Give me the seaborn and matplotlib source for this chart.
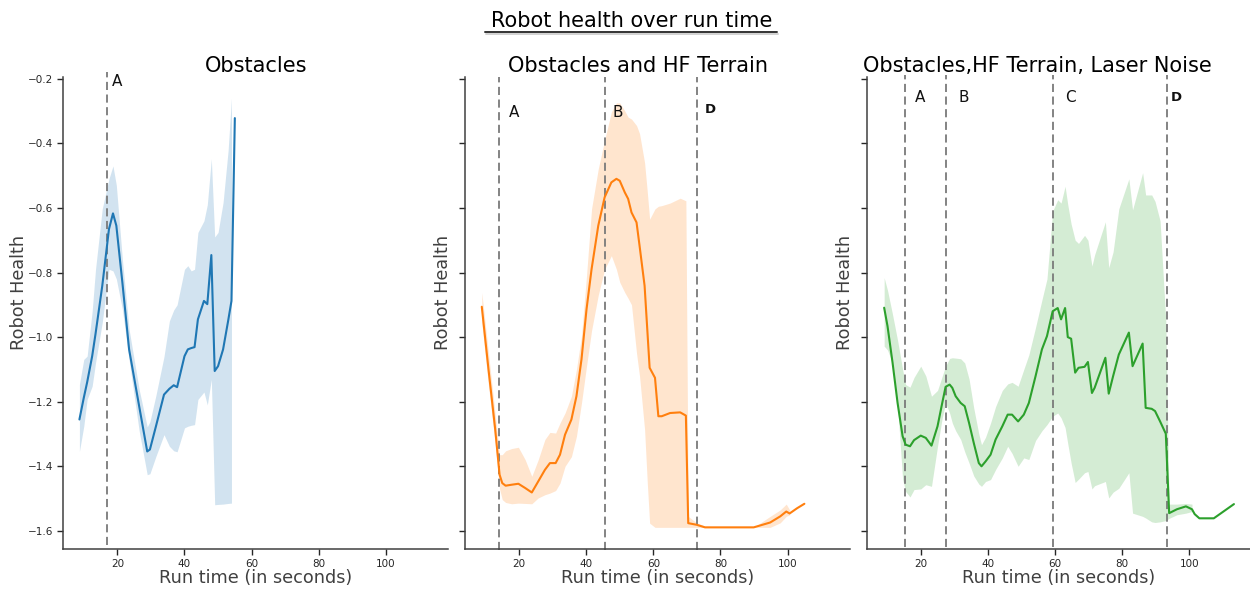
import numpy as np
import pandas as pd
import matplotlib
matplotlib.use("Agg")
import matplotlib.pyplot as plt
import matplotlib.patheffects as pe
from matplotlib.lines import Line2D
import seaborn as sns

nan = np.nan

# ---------------- data ----------------
titles = ["Obstacles", "Obstacles and HF Terrain", "Obstacles,HF Terrain, Laser Noise"]
suptitle = "Robot health over run time"
xlabel = "Run time (in seconds)"
ylabel = "Robot Health"

# Panel 1 : Obstacles
obs_time = [8.7, 10, 11, 12.5, 13.5, 15.5, 17.5, 18.7, 19.7, 21.5, 23.5, 26.5, 28.9, 29.7,
            31.5, 33.9, 35.5, 36.8, 37.8, 40, 41, 42, 43, 44, 45.8, 46.8, 48, 49, 50, 51.5,
            53, 54, 55]
obs_mean = [-1.255, -1.188, -1.14, -1.059, -0.99, -0.842, -0.666, -0.617, -0.655, -0.831,
            -1.038, -1.214, -1.354, -1.348, -1.276, -1.178, -1.16, -1.149, -1.155, -1.059,
            -1.038, -1.034, -1.031, -0.945, -0.888, -0.898, -0.746, -1.105, -1.09, -1.038,
            -0.95, -0.888, -0.322]
obs_hi = [-1.147, -1.069, -1.059, -0.92, -0.79, -0.603, -0.51, -0.47, -0.53, -0.759, -0.976,
          -1.162, -1.278, -1.262, -1.18, -1.06, -0.95, -0.916, -0.9, -0.79, -0.779, -0.795,
          -0.79, -0.676, -0.64, -0.59, -0.448, -0.69, -0.676, -0.583, -0.422, -0.26, nan]
obs_lo = [-1.354, -1.276, -1.193, -1.152, -1.08, -0.955, -0.79, -0.795, -0.82, -0.914, -1.07,
          -1.29, -1.426, -1.423, -1.369, -1.302, -1.338, -1.352, -1.355, -1.281, -1.276,
          -1.273, -1.271, -1.193, -1.17, -1.21, -1.131, -1.519, -1.518, -1.517, -1.515,
          -1.514, nan]

# Panel 2 : Obstacles and HF Terrain
hf_time = [8.9, 10.9, 12.9, 14.2, 15.0, 16.0, 17.8, 19.8, 21.8, 23.8, 25.7, 27.7, 29.2, 30.9,
           32.2, 33.7, 35.6, 37.1, 38.6, 40.1, 41.6, 43.6, 45.5, 47.5, 49, 50, 51.5, 52.5,
           53.5, 55, 55.9, 57.4, 58.2, 58.9, 60.5, 61.5, 62.5, 65, 68, 69.7, 70.4, 72.9,
           75.4, 80.9, 89.9, 94.8, 97.8, 99.6, 100.6, 102.8, 105]
hf_mean = [-0.906, -1.1, -1.286, -1.426, -1.452, -1.46, -1.457, -1.454, -1.467, -1.481,
           -1.447, -1.411, -1.39, -1.39, -1.364, -1.302, -1.255, -1.183, -1.069, -0.914,
           -0.79, -0.655, -0.567, -0.521, -0.51, -0.516, -0.552, -0.572, -0.614, -0.645,
           -0.717, -0.841, -0.976, -1.095, -1.126, -1.245, -1.245, -1.235, -1.233, -1.243,
           -1.576, -1.581, -1.589, -1.589, -1.589, -1.574, -1.555, -1.54, -1.546, -1.53,
           -1.516]
hf_hi = [-0.862, -1.05, -1.24, -1.364, -1.364, -1.352, -1.345, -1.341, -1.379, -1.431,
         -1.38, -1.317, -1.295, -1.297, -1.266, -1.235, -1.183, -1.1, -0.997, -0.81, -0.603,
         -0.479, -0.39, -0.303, -0.275, -0.275, -0.3, -0.319, -0.325, -0.345, -0.37, -0.46,
         -0.55, -0.635, -0.603, -0.595, -0.593, -0.585, -0.57, -0.578, -1.555, -1.575,
         -1.585, -1.589, -1.589, -1.555, -1.535, -1.517, -1.535, nan, nan]
hf_lo = [-0.955, -1.15, -1.33, -1.47, -1.503, -1.512, -1.516, -1.514, -1.515, -1.516, -1.498,
         -1.488, -1.483, -1.475, -1.452, -1.4, -1.37, -1.307, -1.204, -1.09, -0.98, -0.87,
         -0.79, -0.748, -0.79, -0.83, -0.862, -0.88, -0.9, -1.05, -1.121, -1.286, -1.45,
         -1.576, -1.589, -1.589, -1.589, -1.589, -1.589, -1.589, -1.589, -1.589, -1.589,
         -1.589, -1.589, -1.589, -1.575, -1.555, -1.55, nan, nan]

# Panel 3 : Obstacles, HF Terrain, Laser Noise
ln_time = [9.1, 10.1, 11.6, 13.1, 14.6, 15.5, 16.8, 18, 20, 21.5, 23.2, 25, 26.4, 27.4, 28.6,
           29.4, 30.4, 31.9, 33.1, 34.4, 35.8, 37.3, 38.1, 39.3, 40.8, 42.3, 44.3, 45.9,
           47.2, 49, 50.7, 52.2, 54.2, 56.1, 57.6, 59.3, 60.8, 61.8, 63, 63.8, 64.8, 66, 67,
           68.8, 69.8, 71, 71.8, 75, 76, 77.3, 79, 82, 83.1, 86.1, 87, 88.8, 89.8, 91.3, 93,
           94, 96.3, 99, 100.8, 101.6, 103, 107.3, 113.3]
ln_mean = [-0.909, -0.966, -1.079, -1.204, -1.307, -1.333, -1.338, -1.319, -1.305, -1.312,
           -1.336, -1.276, -1.204, -1.154, -1.147, -1.157, -1.183, -1.204, -1.214, -1.266,
           -1.328, -1.39, -1.4, -1.385, -1.364, -1.317, -1.276, -1.24, -1.24, -1.261, -1.24,
           -1.204, -1.121, -1.038, -0.997, -0.92, -0.91, -0.945, -0.91, -1.0, -1.005, -1.11,
           -1.095, -1.092, -1.077, -1.173, -1.157, -1.064, -1.175, -1.121, -1.054, -0.986,
           -1.09, -1.02, -1.219, -1.222, -1.229, -1.261, -1.299, -1.545, -1.533, -1.524,
           -1.533, -1.548, -1.561, -1.561, -1.517]
ln_hi = [-0.816, -0.855, -0.93, -1.01, -1.1, -1.147, -1.155, -1.125, -1.09, -1.12, -1.183,
         -1.165, -1.121, -1.09, -1.066, -1.064, -1.065, -1.067, -1.08, -1.13, -1.22, -1.3,
         -1.333, -1.31, -1.266, -1.215, -1.165, -1.145, -1.14, -1.152, -1.1, -1.055, -0.97,
         -0.885, -0.82, -0.61, -0.575, -0.585, -0.533, -0.59, -0.65, -0.7, -0.71, -0.685,
         -0.7, -0.78, -0.745, -0.643, -0.785, -0.736, -0.603, -0.51, -0.606, -0.491, -0.56,
         -0.56, -0.58, -0.64, -0.95, -1.517, -1.517, -1.515, -1.517, nan, nan, nan, nan]
ln_lo = [-1.028, -1.04, -1.08, -1.21, -1.44, -1.478, -1.495, -1.472, -1.47, -1.457, -1.462,
         -1.338, -1.25, -1.204, -1.235, -1.266, -1.29, -1.317, -1.355, -1.39, -1.43, -1.455,
         -1.462, -1.447, -1.441, -1.41, -1.374, -1.338, -1.36, -1.4, -1.374, -1.379, -1.32,
         -1.29, -1.271, -1.245, -1.235, -1.25, -1.28, -1.33, -1.39, -1.45, -1.44, -1.42,
         -1.416, -1.47, -1.46, -1.447, -1.498, -1.48, -1.468, -1.42, -1.545, -1.555, -1.56,
         -1.572, -1.574, -1.572, -1.568, -1.561, -1.55, -1.545, -1.54, nan, nan, nan, nan]

# event markers (time of event, label)
obs_events = [17.0]
obs_event_labels = ["A"]
hf_events = [13.9, 45.5, 73.1]
hf_event_labels = ["A", "B", "D"]
ln_events = [15.2, 27.4, 59.3, 93.4]
ln_event_labels = ["A", "B", "C", "D"]

# ---------------- style / layout ----------------
sns.set_style("ticks")
plt.rcParams['font.family'] = ['DejaVu Sans']
colors = sns.color_palette("tab10")[:3]

W, H = 1250, 590
fig = plt.figure(figsize=(W / 100, H / 100), dpi=100)


def rect(left_px):
    return [left_px / W, (H - 549) / H, 384.7 / W, 471.6 / H]


ax1 = fig.add_axes(rect(63.3))
ax2 = fig.add_axes(rect(465.0), sharex=ax1, sharey=ax1)
ax3 = fig.add_axes(rect(866.7), sharex=ax1, sharey=ax1)
axes = [ax1, ax2, ax3]

panels = [
    dict(t=obs_time, m=obs_mean, lo=obs_lo, hi=obs_hi, ev=obs_events, evl=obs_event_labels),
    dict(t=hf_time, m=hf_mean, lo=hf_lo, hi=hf_hi, ev=hf_events, evl=hf_event_labels),
    dict(t=ln_time, m=ln_mean, lo=ln_lo, hi=ln_hi, ev=ln_events, evl=ln_event_labels),
]
layout = [
    dict(title_x=0.5, ylab_x=-0.092, vspan=(-1.643, -0.179),
         lab_x=[20.0], lab_y=[-0.208]),
    dict(title_x=0.451, ylab_x=-0.034, vspan=(-1.659, -0.195),
         lab_x=[18.4, 49.5, 77.0], lab_y=[-0.306, -0.306, -0.295]),
    dict(title_x=0.443, ylab_x=-0.033, vspan=(-1.649, -0.190),
         lab_x=[19.8, 32.7, 64.5, 96.1], lab_y=[-0.259] * 4),
]

for ax, p, lay, col, title in zip(axes, panels, layout, colors, titles):
    df = pd.DataFrame({"time": p["t"], "health": p["m"]})
    sns.lineplot(data=df, x="time", y="health", color=col, lw=1.5, ax=ax)
    ax.fill_between(p["t"], p["lo"], p["hi"], color=col, alpha=0.2, lw=0)
    ax.vlines(p["ev"], lay["vspan"][0], lay["vspan"][1], colors="#7a7a7a",
              linestyles=(0, (4.5, 2.5)), lw=1.3, clip_on=False, zorder=1)
    for lbl, lx, ly in zip(p["evl"], lay["lab_x"], lay["lab_y"]):
        if lbl == "D":
            ax.text(lx, ly, lbl, ha="center", va="center", fontsize=9.5,
                    fontweight="bold", color="#111111")
        else:
            ax.text(lx, ly, lbl, ha="center", va="center", fontsize=11, color="#111111")
    ax.set_title(title, fontsize=15, x=lay["title_x"], pad=4, color="black")
    ax.set_xlabel(xlabel, fontsize=12.7, color=".25")
    ax.set_ylabel(ylabel, fontsize=12.7, color=".25")
    ax.xaxis.set_label_coords(0.5, -0.042)
    ax.yaxis.set_label_coords(lay["ylab_x"], 0.545)
    ax.tick_params(labelsize=7.5, colors=".15", width=1.0, length=4)
    sns.despine(ax=ax)
    for s in ("left", "bottom"):
        ax.spines[s].set_color(".25")
        ax.spines[s].set_linewidth(1.1)

ax1.set_xlim(3.9, 118.5)
ax1.set_ylim(-1.656, -0.196)
ax1.set_xticks([20, 40, 60, 80, 100])
ax1.set_yticks([-1.6, -1.4, -1.2, -1.0, -0.8, -0.6, -0.4, -0.2])
ax2.tick_params(labelleft=False)
ax3.tick_params(labelleft=False)

fig.text(632 / W, 1 - 26.7 / H, suptitle, ha="center", va="baseline", fontsize=15,
         color="black")
ul = Line2D([485 / W, 777 / W], [1 - 31.7 / H] * 2, transform=fig.transFigure,
            color="#333333", lw=1.4,
            path_effects=[pe.SimpleLineShadow(offset=(0.8, -1.5), shadow_color="gray",
                                              alpha=0.35), pe.Normal()])
fig.add_artist(ul)

fig.savefig("out.png", dpi=100)
